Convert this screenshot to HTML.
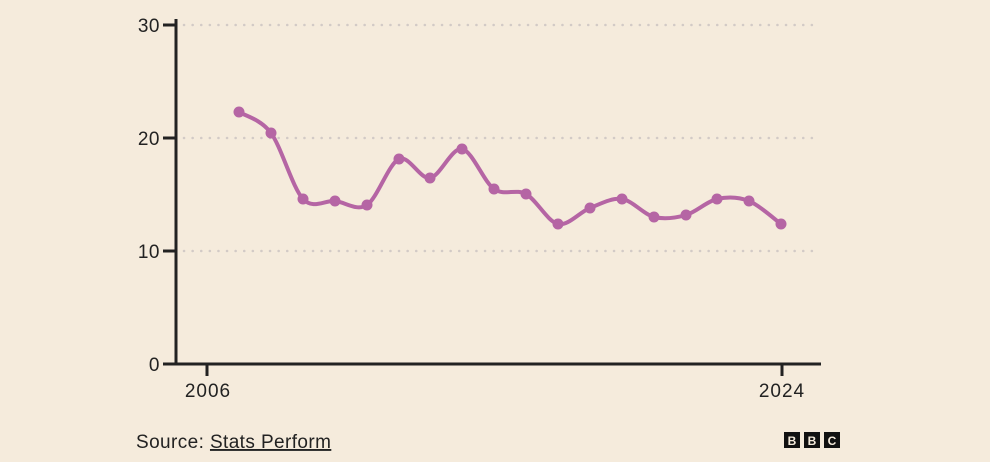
<!DOCTYPE html>
<html><head><meta charset="utf-8"><style>
html,body{margin:0;padding:0;background:#f5ebdc;}
svg{display:block;font-family:"Liberation Sans",sans-serif;}
</style></head><body>
<svg id="s" width="990" height="462" viewBox="0 0 990 462">
<rect width="990" height="462" fill="#f5ebdc"/>
<g stroke="#d2cac6" stroke-width="2.5" stroke-dasharray="0.1 8.5" stroke-linecap="round">
<line x1="184" y1="25" x2="818" y2="25"/>
<line x1="184" y1="138" x2="818" y2="138"/>
<line x1="184" y1="251" x2="818" y2="251"/>
</g>
<g stroke="#222" stroke-width="3">
<line x1="176" y1="19" x2="176" y2="365"/>
<line x1="163" y1="364" x2="821" y2="364"/>
<line x1="163" y1="25" x2="176" y2="25"/>
<line x1="163" y1="138" x2="176" y2="138"/>
<line x1="163" y1="251" x2="176" y2="251"/>
<line x1="207" y1="364" x2="207" y2="376"/>
<line x1="782" y1="364" x2="782" y2="376"/>
</g>
<g font-size="19" fill="#222" text-anchor="end" letter-spacing="0.5">
<text x="160" y="32">30</text>
<text x="160" y="145">20</text>
<text x="160" y="258">10</text>
<text x="160" y="371">0</text>
</g>
<g font-size="19" fill="#222" text-anchor="middle" letter-spacing="1">
<text x="208" y="397">2006</text>
<text x="782" y="397">2024</text>
</g>
<text x="136" y="448" font-size="19" fill="#222" letter-spacing="0.4">Source: <tspan text-decoration="underline">Stats Perform</tspan></text>
<g font-size="12" font-weight="bold" fill="#f5ebdc" text-anchor="middle">
<rect x="784" y="432" width="16" height="16" fill="#111"/><text x="792" y="445">B</text>
<rect x="804" y="432" width="16" height="16" fill="#111"/><text x="812" y="445">B</text>
<rect x="824" y="432" width="16" height="16" fill="#111"/><text x="832" y="445">C</text>
</g>
<path id="ln" fill="none" stroke="#b565a4" stroke-width="4" stroke-linejoin="round"/>
<g id="pts" fill="#b565a4"></g>
</svg>
<script>
var P=[[239,112],[271,133],[303,199],[335,201],[367,205],[399,159],[430,178],[462,149],[494,189],[526,194],[558,224],[590,208],[622,199],[654,217],[686,215],[717,199],[749,201],[781,224]];
var d="M"+P[0];
for(var i=0;i<P.length-1;i++){
var p0=P[Math.max(i-1,0)],p1=P[i],p2=P[i+1],p3=P[Math.min(i+2,P.length-1)];
var t=0.16;
var c1=[p1[0]+(p2[0]-p0[0])*t,p1[1]+(p2[1]-p0[1])*t];
var c2=[p2[0]-(p3[0]-p1[0])*t,p2[1]-(p3[1]-p1[1])*t];
d+=" C"+c1+" "+c2+" "+p2;}
document.getElementById("ln").setAttribute("d",d);
var g=document.getElementById("pts"),h="";
P.forEach(function(p){h+='<circle cx="'+p[0]+'" cy="'+p[1]+'" r="5.5"/>';});
g.innerHTML=h;
</script>
</body></html>
